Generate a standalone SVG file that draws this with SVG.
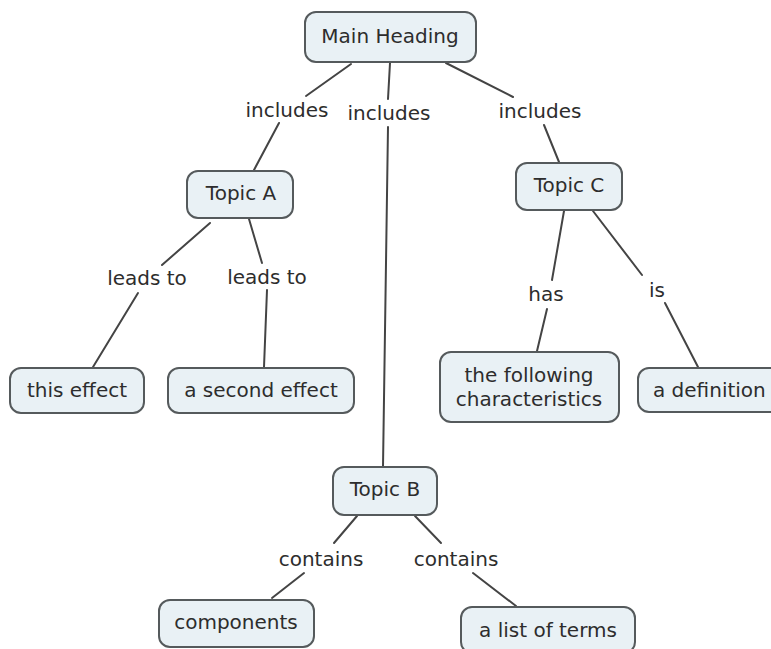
<svg xmlns="http://www.w3.org/2000/svg" width="771" height="649" viewBox="0 0 771 649">
<style>
.bg{fill:#ffffff}
.node rect{fill:#e9f1f5;stroke:#555a5c;stroke-width:2}
text{font-family:"DejaVu Sans","Verdana",sans-serif;font-size:20px;fill:#2d2d2d;dominant-baseline:central}
.c{text-anchor:middle}
#connectors line{stroke:#444444;stroke-width:2;stroke-linecap:round}
</style>
<rect class="bg" x="0" y="0" width="771" height="649"/>
<g id="connectors">
<line x1="351" y1="64" x2="306" y2="96"/>
<line x1="279" y1="123" x2="254" y2="170"/>
<line x1="390" y1="63" x2="388" y2="99"/>
<line x1="388" y1="127" x2="383" y2="467"/>
<line x1="446" y1="63" x2="513" y2="97"/>
<line x1="544" y1="125" x2="559" y2="162"/>
<line x1="210" y1="223" x2="162" y2="265"/>
<line x1="138" y1="293" x2="93" y2="367"/>
<line x1="249" y1="219" x2="262" y2="263"/>
<line x1="267" y1="290" x2="264" y2="367"/>
<line x1="564" y1="211" x2="552" y2="280"/>
<line x1="547" y1="309" x2="537" y2="351"/>
<line x1="593" y1="211" x2="642" y2="275"/>
<line x1="665" y1="303" x2="698" y2="367"/>
<line x1="357" y1="516" x2="334" y2="543"/>
<line x1="304" y1="573" x2="272" y2="598"/>
<line x1="415" y1="516" x2="441" y2="543"/>
<line x1="473" y1="573" x2="516" y2="606"/>
<text class="c" x="287" y="110">includes</text>
<text class="c" x="389" y="113">includes</text>
<text class="c" x="540" y="111">includes</text>
<text class="c" x="147" y="278">leads to</text>
<text class="c" x="267" y="277">leads to</text>
<text class="c" x="546" y="294">has</text>
<text class="c" x="657" y="290">is</text>
<text class="c" x="321" y="559">contains</text>
<text class="c" x="456" y="559">contains</text>
</g>
<g id="main" class="node"><rect x="305" y="12" width="171" height="50" rx="11"/><text class="c" x="390" y="36">Main Heading</text></g>
<g id="topicA" class="node"><rect x="187" y="171" width="106" height="47" rx="11"/><text class="c" x="241" y="193">Topic A</text></g>
<g id="topicC" class="node"><rect x="516" y="163" width="106" height="47" rx="11"/><text class="c" x="569" y="185">Topic C</text></g>
<g id="thisEffect" class="node"><rect x="10" y="368" width="134" height="45" rx="11"/><text class="c" x="77" y="390">this effect</text></g>
<g id="secondEffect" class="node"><rect x="168" y="368" width="186" height="45" rx="11"/><text class="c" x="261" y="390">a second effect</text></g>
<g id="characteristics" class="node"><rect x="440" y="352" width="179" height="70" rx="11"/><text class="c" x="529" y="375">the following</text><text class="c" x="529" y="399">characteristics</text></g>
<g id="definition" class="node"><rect x="638" y="368" width="150" height="44" rx="11"/><text x="653" y="390">a definition</text></g>
<g id="topicB" class="node"><rect x="333" y="467" width="104" height="48" rx="11"/><text class="c" x="385" y="489">Topic B</text></g>
<g id="components" class="node"><rect x="159" y="600" width="155" height="47" rx="11"/><text class="c" x="236" y="622">components</text></g>
<g id="terms" class="node"><rect x="461" y="607" width="174" height="46" rx="11"/><text class="c" x="548" y="630">a list of terms</text></g>
</svg>
